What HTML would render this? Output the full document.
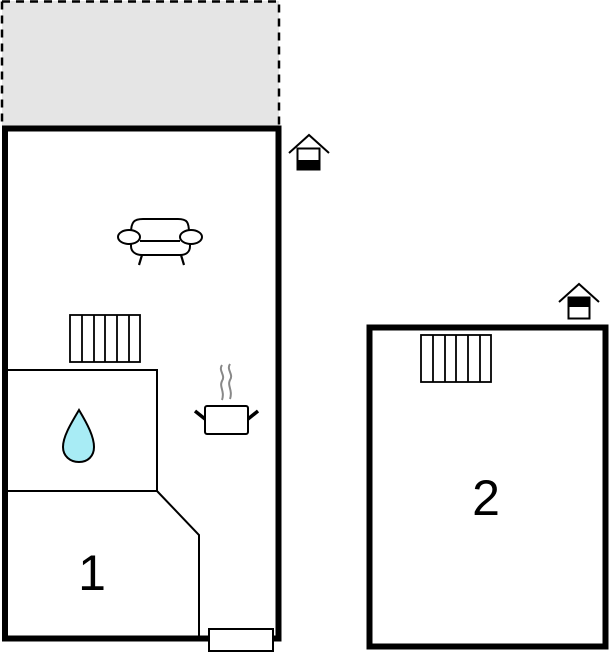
<!DOCTYPE html>
<html><head><meta charset="utf-8"><style>html,body{margin:0;padding:0;background:#fff;width:609px;height:652px;overflow:hidden}</style></head>
<body>
<svg width="609" height="652" viewBox="0 0 609 652" xmlns="http://www.w3.org/2000/svg" font-family="Liberation Sans, sans-serif">
<rect x="2" y="1" width="277" height="127" fill="#e5e5e5"/>
<path d="M2 1.5 H279 V127 M2 1.5 V127" fill="none" stroke="#000" stroke-width="2.5" stroke-dasharray="8,6"/>
<!-- building 1 -->
<rect x="5" y="128.5" width="273.5" height="510" fill="#fff" stroke="#000" stroke-width="6"/>
<rect x="5" y="370" width="152" height="121" fill="none" stroke="#000" stroke-width="2"/>
<polyline points="157,491 199,535 199,639" fill="none" stroke="#000" stroke-width="2"/>
<rect x="209" y="629" width="64" height="22" fill="#fff" stroke="#000" stroke-width="2"/>
<!-- radiator 1 -->
<g fill="none" stroke="#000" stroke-width="1.8">
<rect x="70" y="315" width="70" height="47"/>
<path d="M82 315V362M94 315V362M105 315V362M117 315V362M129 315V362"/>
</g>
<!-- drop -->
<path d="M79 410 C70 425 63 437 63 447 C63 456 70 462 79 462 C88 462 94 456 94 447 C94 437 88 425 79 410Z" fill="#a8ecf5" stroke="#000" stroke-width="2"/>
<!-- pot -->
<g fill="none">
<path d="M222 365 c-4 6 4 10 0 16 c-3 6 3 10 0 19 M230 364 c-4 6 4 10 0 16 c-3 6 3 10 0 19" stroke="#888" stroke-width="2"/>
<rect x="205" y="406" width="43" height="28" rx="2" stroke="#000" stroke-width="2" fill="#fff"/>
<path d="M195 411 L205 419 M258 411 L248 419" stroke="#000" stroke-width="3.5"/>
</g>
<!-- sofa -->
<g fill="#fff" stroke="#000" stroke-width="2">
<path d="M131 233 C131 222 134 219 143 219 H178 C187 219 189 222 189 233"/>
<path d="M131 238 V246 C131 252 136 255 142 255 H180 C186 255 190 252 190 246 V238"/>
<ellipse cx="129" cy="237" rx="11" ry="7"/>
<ellipse cx="191" cy="237" rx="11" ry="7"/>
<line x1="140" y1="241" x2="180" y2="241"/>
<path d="M142 255 L139 265 M181 255 L184 265" fill="none" stroke-width="2.2"/>
</g>
<text x="92" y="590" font-size="50" text-anchor="middle">1</text>
<!-- entrance icon 1 -->
<g>
<polyline points="289,153 309,135 329,153" fill="none" stroke="#000" stroke-width="2"/>
<rect x="297.5" y="148.5" width="22" height="21" fill="#fff" stroke="#000" stroke-width="2"/>
<rect x="297" y="160" width="23" height="10" fill="#000"/>
</g>
<!-- building 2 -->
<rect x="369.5" y="327.5" width="236" height="319" fill="#fff" stroke="#000" stroke-width="6"/>
<g fill="none" stroke="#000" stroke-width="1.8">
<rect x="421" y="335" width="70" height="47"/>
<path d="M433 335V382M445 335V382M456 335V382M468 335V382M480 335V382"/>
</g>
<text x="486" y="515" font-size="50" text-anchor="middle">2</text>
<g>
<polyline points="559,302 579,284 599,302" fill="none" stroke="#000" stroke-width="2"/>
<rect x="568.5" y="297.5" width="21" height="21" fill="#fff" stroke="#000" stroke-width="2"/>
<rect x="568" y="297" width="22" height="10" fill="#000"/>
</g>
</svg>
</body></html>
